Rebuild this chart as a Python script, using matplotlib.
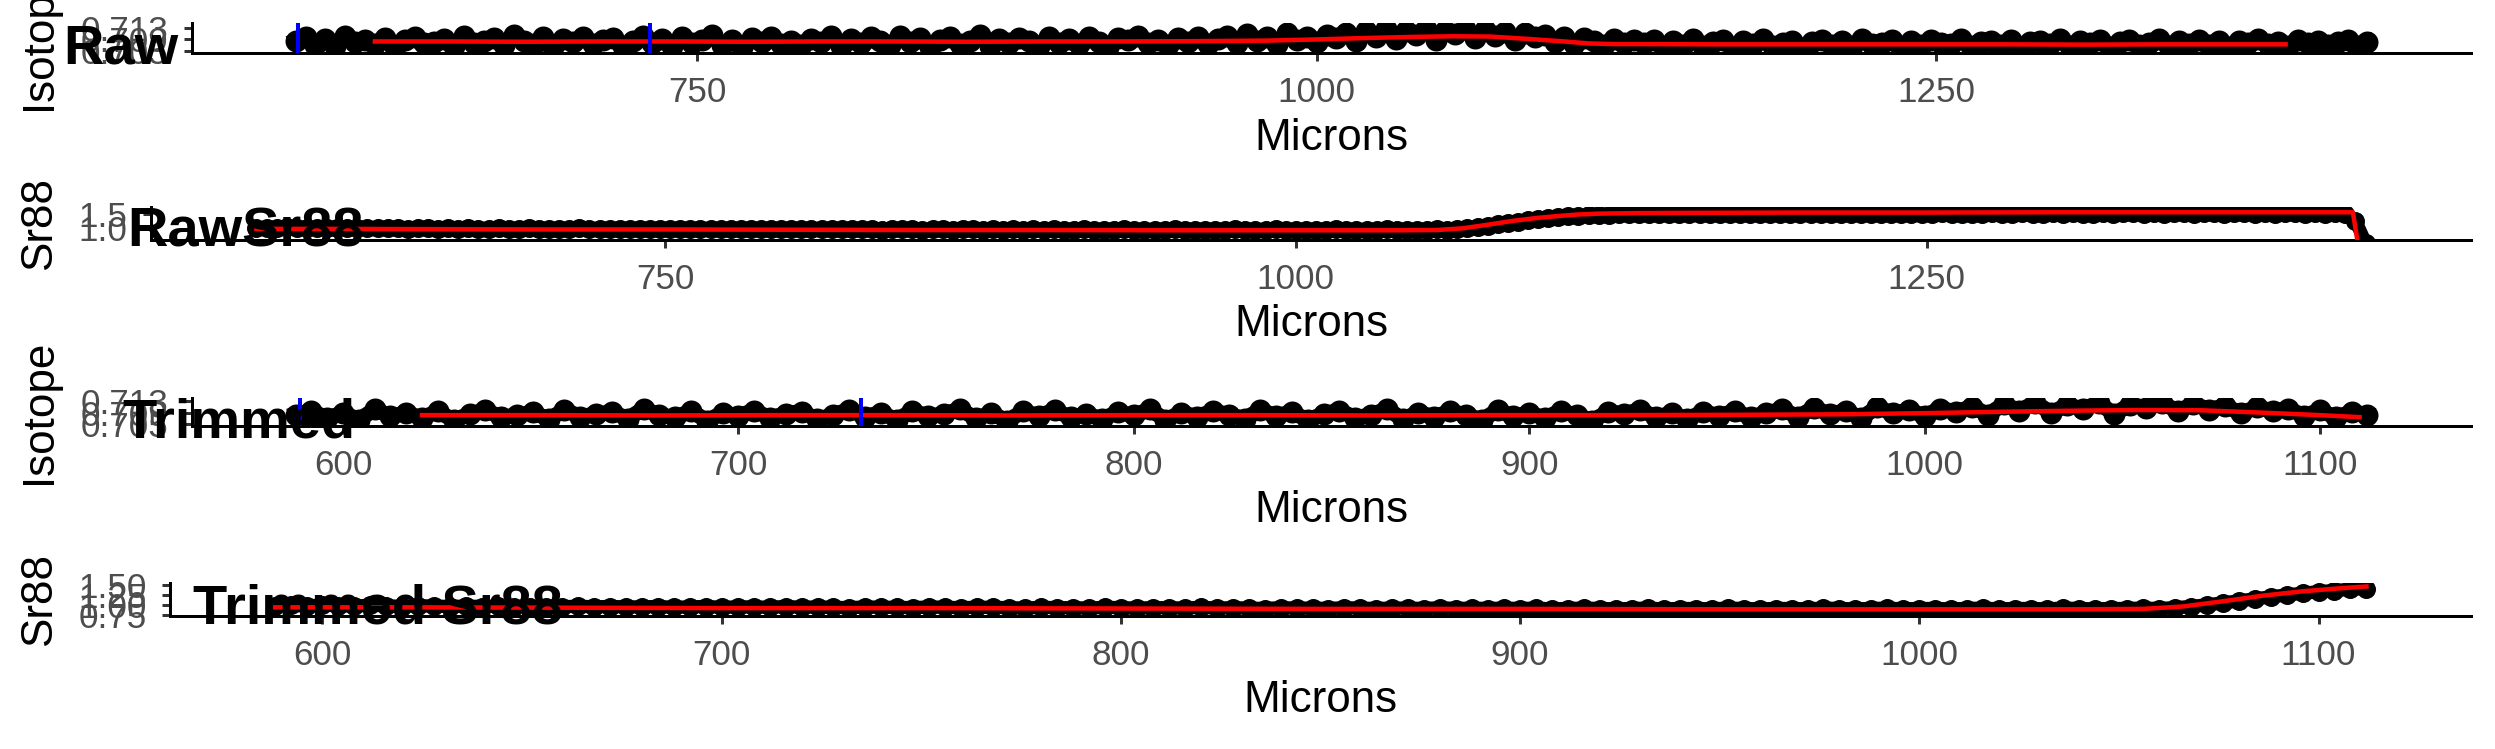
import numpy as np
import matplotlib
matplotlib.use("Agg")
import matplotlib.pyplot as plt
from matplotlib.ticker import MultipleLocator, FixedLocator, FormatStrFormatter

plt.rcParams['font.family'] = ['Liberation Sans', 'DejaVu Sans']

W, H = 2495, 749
PX = 72 / 100  # points per pixel at dpi 100

## Data
microns = np.arange(588, 1425, 4)

# 87Sr/86Sr, stored as (value - 0.7) * 1e4
iso_raw = 0.7 + 1e-4 * np.array([
    84, 97, 71, 90, 66, 102, 79, 88, 73, 95, 64, 86, 99, 75, 81, 92,
    68, 100, 77, 85, 93, 70, 104, 82, 74, 96, 63, 89, 80, 98, 72, 87,
    94, 67, 83, 101, 76, 91, 65, 97, 78, 86, 103, 71, 88, 62, 95, 80,
    99, 74, 85, 69, 92, 81, 102, 66, 90, 77, 96, 84, 70, 100, 79, 93,
    64, 87, 98, 73, 82, 104, 68, 91, 76, 95, 83, 65, 99, 78, 89, 72,
    97, 81, 63, 94, 86, 101, 75, 88, 69, 93, 80, 96, 74,
    90, 102, 76, 108, 85, 97, 72, 110, 88, 99, 80, 105, 93,
    112, 84, 120, 98, 126, 90, 117, 104, 124, 86, 119, 108, 126, 95, 122, 101, 115, 88, 110, 97,
    104, 80, 99, 74, 93, 84, 70, 90, 78, 86,
    75, 88, 64, 82, 70, 90, 67, 79, 86, 62, 84, 73, 89, 68, 77, 85,
    61, 80, 87, 71, 83, 66, 90, 74, 78, 88, 63, 82, 69, 86, 76, 72,
    89, 65, 81, 84, 70, 87, 62, 79, 85, 73, 90, 67, 83, 76, 88, 64,
    80, 86, 71, 78, 89, 66, 84, 74, 87, 69, 82, 63, 85, 77, 90, 72,
    81, 68, 86, 75, 83, 70, 79, 88, 65, 80,
])

sr88_raw = np.array([
    0.99, 1.00, 0.98, 1.01, 0.99, 0.98, 1.00, 0.99, 0.97, 0.99, 0.98, 0.97, 0.98,
    0.97, 0.98, 0.96, 0.97, 0.97, 0.96, 0.98, 0.96, 0.97, 0.96,
    0.96, 0.97, 0.95, 0.96, 0.97, 0.95, 0.96, 0.96, 0.95, 0.97,
    0.95, 0.96, 0.95, 0.94, 0.96, 0.95, 0.95, 0.94, 0.96, 0.95,
    0.94, 0.95, 0.95, 0.94, 0.93, 0.95, 0.94, 0.94, 0.93, 0.95,
    0.94, 0.93, 0.94, 0.94, 0.93, 0.95, 0.93, 0.94, 0.93, 0.92,
    0.94, 0.93, 0.93, 0.92, 0.94, 0.93, 0.92, 0.93, 0.93, 0.92,
    0.94, 0.92, 0.93, 0.92, 0.93,
    0.92, 0.93, 0.91, 0.92, 0.93, 0.92, 0.91, 0.92, 0.93, 0.91,
    0.92, 0.92, 0.91, 0.93, 0.92, 0.91, 0.92, 0.92, 0.91, 0.93,
    0.92, 0.91, 0.92, 0.93, 0.91, 0.92, 0.92, 0.91, 0.92, 0.93,
    0.91, 0.92, 0.92, 0.91, 0.93, 0.92, 0.91, 0.92, 0.92, 0.93, 0.92,
    0.94, 0.97, 1.01, 1.06, 1.11, 1.16, 1.21, 1.26, 1.30, 1.34, 1.37, 1.40, 1.42, 1.44, 1.45,
    1.46, 1.47, 1.47, 1.48, 1.47, 1.48, 1.48, 1.49, 1.48, 1.48,
    1.49, 1.48, 1.49, 1.49, 1.48, 1.49, 1.50, 1.49, 1.49, 1.50,
    1.49, 1.50, 1.49, 1.50, 1.50, 1.49, 1.50, 1.50, 1.49, 1.50,
    1.50, 1.49, 1.50, 1.51, 1.50, 1.50, 1.49, 1.50, 1.51, 1.50,
    1.50, 1.51, 1.50, 1.50, 1.51, 1.50, 1.51, 1.50, 1.50, 1.51,
    1.50, 1.51, 1.51, 1.50, 1.51, 1.50, 1.51, 1.51, 1.50, 1.51,
    1.51, 1.50, 1.51, 1.51, 1.50, 1.51, 1.50, 1.51, 1.51, 1.50,
    1.51, 1.50, 1.51, 1.50,
    1.25, 0.45,
])

# smoothed curves (red)
iso_fit_x = [620, 650, 680, 710, 740, 770, 800, 830, 860, 890, 920, 950, 980, 1000,
             1020, 1040, 1055, 1070, 1085, 1100, 1110, 1120, 1130, 1160, 1190, 1220,
             1250, 1280, 1310, 1340, 1370, 1391]
iso_fit = [0.7082, 0.7082, 0.7081, 0.7082, 0.7082, 0.7081, 0.7082, 0.7082, 0.7081,
           0.7082, 0.7082, 0.7083, 0.7085, 0.7089, 0.7094, 0.7098, 0.7100, 0.7099,
           0.7091, 0.7082, 0.7075, 0.7073, 0.7073, 0.7072, 0.7072, 0.7072, 0.7072,
           0.7072, 0.7071, 0.7072, 0.7072, 0.7072]

sr88_fit_x = [588, 620, 660, 700, 750, 800, 850, 900, 950, 1000, 1040, 1056, 1066,
              1076, 1086, 1096, 1106, 1112, 1120, 1135, 1160, 1200, 1250, 1300, 1350,
              1400, 1419, 1421]
sr88_fit = [0.95, 0.95, 0.94, 0.93, 0.93, 0.92, 0.91, 0.91, 0.90, 0.90, 0.90, 0.91,
            0.97, 1.10, 1.24, 1.35, 1.43, 1.47, 1.50, 1.52, 1.53, 1.54, 1.54, 1.55,
            1.55, 1.55, 1.55, 0.40]

trim_end = 1112
window = [589, 731]

## Figure
fig = plt.figure(figsize=(W / 100, H / 100), dpi=100)


def panel(box, title, title_xy, ylabel, x, y, fx, fy, ylim, yticks, fmt, xstep,
          vlines, dot):
    x0, x1, top, bot = box
    ax = fig.add_axes([x0 / W, 1 - bot / H, (x1 - x0) / W, (bot - top) / H])
    fx, fy = np.asarray(fx), np.asarray(fy)
    if x.max() <= trim_end:
        m = fx <= trim_end
        fx, fy = fx[m], fy[m]
    ax.plot(x, y, color='black', lw=0.7 * dot * PX, zorder=2)
    ax.scatter(x, y, s=(dot * PX) ** 2, color='black', linewidths=0, zorder=3)
    ax.plot(fx, fy, color='red', lw=4.5 * PX, zorder=4)
    if vlines:
        for v in window:
            ax.axvline(v, color='blue', lw=4 * PX, zorder=5)
    r = x.max() - x.min()
    ax.set_xlim(x.min() - 0.05 * r, x.max() + 0.05 * r)
    ax.set_ylim(*ylim)
    ax.xaxis.set_major_locator(MultipleLocator(xstep))
    ax.yaxis.set_major_locator(FixedLocator(yticks))
    ax.yaxis.set_major_formatter(FormatStrFormatter(fmt))
    for s in ['top', 'right']:
        ax.spines[s].set_visible(False)
    for s in ['left', 'bottom']:
        ax.spines[s].set_linewidth(3 * PX)
    ax.tick_params(length=8 * PX, width=3 * PX, color='#333333', labelcolor='#4D4D4D',
                   labelsize=35 * PX, pad=11)
    h = bot - top
    ax.set_xlabel('Microns', fontsize=44 * PX, va='center')
    ax.xaxis.set_label_coords(0.5, -85 / h)
    fig.text(40 / W, 1 - (top + bot) / 2 / H, ylabel, rotation=90, fontsize=44 * PX,
             ha='center', va='center')
    fig.text(title_xy[0] / W, 1 - title_xy[1] / H, title, fontsize=56 * PX,
             fontweight='bold', ha='left', va='baseline')
    return ax


keep = microns <= trim_end

panel((192, 2471, 23, 53), 'Raw', (63, 63), 'Isotope', microns, iso_raw,
      iso_fit_x, iso_fit, (0.7042, 0.7146), [0.705, 0.709, 0.713], '%.3f', 250, True, 22)
panel((151, 2471, 207, 240), 'RawSr88', (127, 247), 'Sr88', microns, sr88_raw,
      sr88_fit_x, sr88_fit, (0.55, 1.74), [0.5, 1.0, 1.5], '%.1f', 250, False, 19)
panel((192, 2471, 398, 426), 'Trimmed', (122, 438), 'Isotope', microns[keep], iso_raw[keep],
      iso_fit_x, iso_fit, (0.7044, 0.7142), [0.705, 0.709, 0.713], '%.3f', 100, True, 22)
panel((170, 2471, 583, 616), 'Trimmed Sr88', (193, 623), 'Sr88', microns[keep], sr88_raw[keep],
      sr88_fit_x, sr88_fit, (0.7325, 1.5575), [0.75, 1.00, 1.25, 1.50], '%.2f', 100, False, 19)

fig.savefig('out.png', dpi=100)
